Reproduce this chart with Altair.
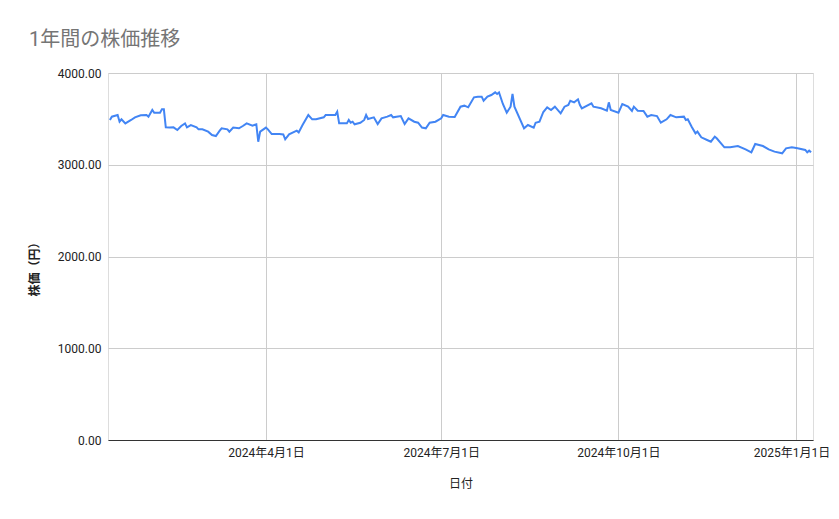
import altair as alt
import pandas as pd

dates = [
    "2024-01-11", "2024-01-12", "2024-01-15", "2024-01-16", "2024-01-17", "2024-01-19",
    "2024-01-22", "2024-01-24", "2024-01-27", "2024-01-30", "2024-01-31", "2024-02-02",
    "2024-02-03", "2024-02-06", "2024-02-07", "2024-02-08", "2024-02-09", "2024-02-11",
    "2024-02-13", "2024-02-15", "2024-02-17", "2024-02-19", "2024-02-20", "2024-02-22",
    "2024-02-25", "2024-02-26", "2024-02-28", "2024-03-02", "2024-03-04", "2024-03-06",
    "2024-03-08", "2024-03-09", "2024-03-12", "2024-03-13", "2024-03-15", "2024-03-18",
    "2024-03-20", "2024-03-22", "2024-03-25", "2024-03-27", "2024-03-28", "2024-03-29",
    "2024-04-01", "2024-04-02", "2024-04-04", "2024-04-08", "2024-04-10", "2024-04-11",
    "2024-04-13", "2024-04-17", "2024-04-18", "2024-04-20", "2024-04-23", "2024-04-25",
    "2024-04-27", "2024-05-01", "2024-05-02", "2024-05-07", "2024-05-08", "2024-05-09",
    "2024-05-13", "2024-05-14", "2024-05-15", "2024-05-16", "2024-05-17", "2024-05-20",
    "2024-05-22", "2024-05-23", "2024-05-24", "2024-05-27", "2024-05-29", "2024-05-31",
    "2024-06-03", "2024-06-05", "2024-06-06", "2024-06-10", "2024-06-12", "2024-06-14",
    "2024-06-17", "2024-06-19", "2024-06-21", "2024-06-23", "2024-06-25", "2024-06-28",
    "2024-07-01", "2024-07-02", "2024-07-05", "2024-07-08", "2024-07-11", "2024-07-13",
    "2024-07-15", "2024-07-18", "2024-07-20", "2024-07-22", "2024-07-23", "2024-07-25",
    "2024-07-27", "2024-07-29", "2024-07-30", "2024-07-31", "2024-08-02", "2024-08-04",
    "2024-08-06", "2024-08-07", "2024-08-08", "2024-08-13", "2024-08-15", "2024-08-18",
    "2024-08-19", "2024-08-21", "2024-08-23", "2024-08-25", "2024-08-27", "2024-08-29",
    "2024-09-01", "2024-09-03", "2024-09-05", "2024-09-06", "2024-09-08", "2024-09-10",
    "2024-09-11", "2024-09-12", "2024-09-17", "2024-09-18", "2024-09-22", "2024-09-25",
    "2024-09-26", "2024-09-27", "2024-10-01", "2024-10-03", "2024-10-06", "2024-10-08",
    "2024-10-09", "2024-10-11", "2024-10-14", "2024-10-16", "2024-10-18", "2024-10-21",
    "2024-10-23", "2024-10-26", "2024-10-28", "2024-10-31", "2024-11-04", "2024-11-05",
    "2024-11-06", "2024-11-08", "2024-11-10", "2024-11-11", "2024-11-13", "2024-11-16",
    "2024-11-18", "2024-11-20", "2024-11-21", "2024-11-25", "2024-11-28", "2024-12-02",
    "2024-12-06", "2024-12-09", "2024-12-11", "2024-12-15", "2024-12-18", "2024-12-21",
    "2024-12-25", "2024-12-27", "2024-12-30", "2025-01-02", "2025-01-06", "2025-01-07",
    "2025-01-08", "2025-01-09",
]

prices = [
    3488, 3524, 3542, 3469, 3495, 3451,
    3488, 3517, 3539, 3542, 3524, 3597,
    3567, 3567, 3604, 3604, 3408, 3405,
    3408, 3379, 3422, 3451, 3408, 3433,
    3408, 3386, 3386, 3361, 3324, 3313,
    3371, 3397, 3386, 3361, 3405, 3397,
    3422, 3451, 3426, 3441, 3251, 3361,
    3405, 3386, 3335, 3335, 3331, 3277,
    3331, 3371, 3353, 3433, 3542, 3495,
    3495, 3517, 3542, 3542, 3578, 3451,
    3451, 3488, 3458, 3469, 3441, 3458,
    3488, 3542, 3499, 3517, 3444, 3506,
    3524, 3542, 3517, 3531, 3444, 3506,
    3469, 3458, 3405, 3397, 3458, 3469,
    3506, 3542, 3524, 3520, 3633, 3644,
    3626, 3735, 3742, 3742, 3698, 3742,
    3760, 3789, 3771, 3789, 3662, 3567,
    3633, 3771, 3633, 3397, 3433, 3405,
    3458, 3469, 3575, 3626, 3597, 3633,
    3560, 3633, 3651, 3698, 3680, 3713,
    3651, 3615, 3669, 3633, 3615, 3589,
    3680, 3597, 3567, 3662, 3633, 3586,
    3633, 3589, 3586, 3524, 3542, 3531,
    3458, 3495, 3542, 3517, 3524, 3488,
    3495, 3415, 3342, 3361, 3299, 3270,
    3251, 3306, 3288, 3190, 3190, 3204,
    3168, 3136, 3226, 3204, 3168, 3143,
    3125, 3179, 3190, 3179, 3161, 3136,
    3154, 3136,
]

x_domain = ["2024-01-10", "2025-01-10"]
x_ticks = [(2024, 4, 1), (2024, 7, 1), (2024, 10, 1), (2025, 1, 1)]
y_ticks = [0, 1000, 2000, 3000, 4000]

df = pd.DataFrame({"日付": dates, "株価": prices})

FONT = "Roboto, 'Noto Sans CJK JP', sans-serif"

line = alt.Chart(df).mark_line(color="#4285F4", strokeWidth=2).encode(
    x=alt.X(
        "日付:T",
        scale=alt.Scale(type="utc", domain=x_domain, nice=False),
        axis=alt.Axis(
            title="日付",
            values=[alt.DateTime(year=y, month=m, date=d, utc=True) for (y, m, d) in x_ticks],
            labelExpr="utcyear(datum.value) + '年' + (utcmonth(datum.value) + 1) + '月' + utcdate(datum.value) + '日'",
            labelFlush=20,
            labelFlushOffset=34,
            grid=True,
            gridColor="#cccccc",
            domainColor="#333333",
            domainWidth=1,
            ticks=False,
            labelPadding=7,
            labelFontSize=12,
            labelColor="#222222",
            labelFont=FONT,
            titleFont=FONT,
            titleFontSize=12,
            titleFontWeight="normal",
            titleColor="#222222",
            titleBaseline="middle",
            titleY=43,
        ),
    ),
    y=alt.Y(
        "株価:Q",
        scale=alt.Scale(domain=[0, 4000], nice=False),
        axis=alt.Axis(
            title="株価（円）",
            values=y_ticks,
            format=".2f",
            grid=True,
            gridColor="#cccccc",
            domain=False,
            ticks=False,
            labelPadding=7,
            labelFontSize=12,
            labelColor="#222222",
            labelFont=FONT,
            titleFont=FONT,
            titleFontSize=12,
            titleFontWeight="bold",
            titleColor="#222222",
            titleBaseline="middle",
            titleX=-74,
            titleY=193,
        ),
    ),
)

chart = line.properties(
    width=705,
    height=367,
    autosize=alt.AutoSizeParams(type="none"),
    padding={"left": 100, "top": 65, "right": 18, "bottom": 60},
    title=alt.TitleParams(
        text="1年間の株価推移",
        anchor="start",
        frame="group",
        dx=-79,
        offset=17,
        fontSize=20,
        fontWeight="normal",
        color="#757575",
        font=FONT,
    ),
).configure_view(stroke=None).configure(background="white")

chart.save("out.html", embed_options={"renderer": "svg", "actions": False})
